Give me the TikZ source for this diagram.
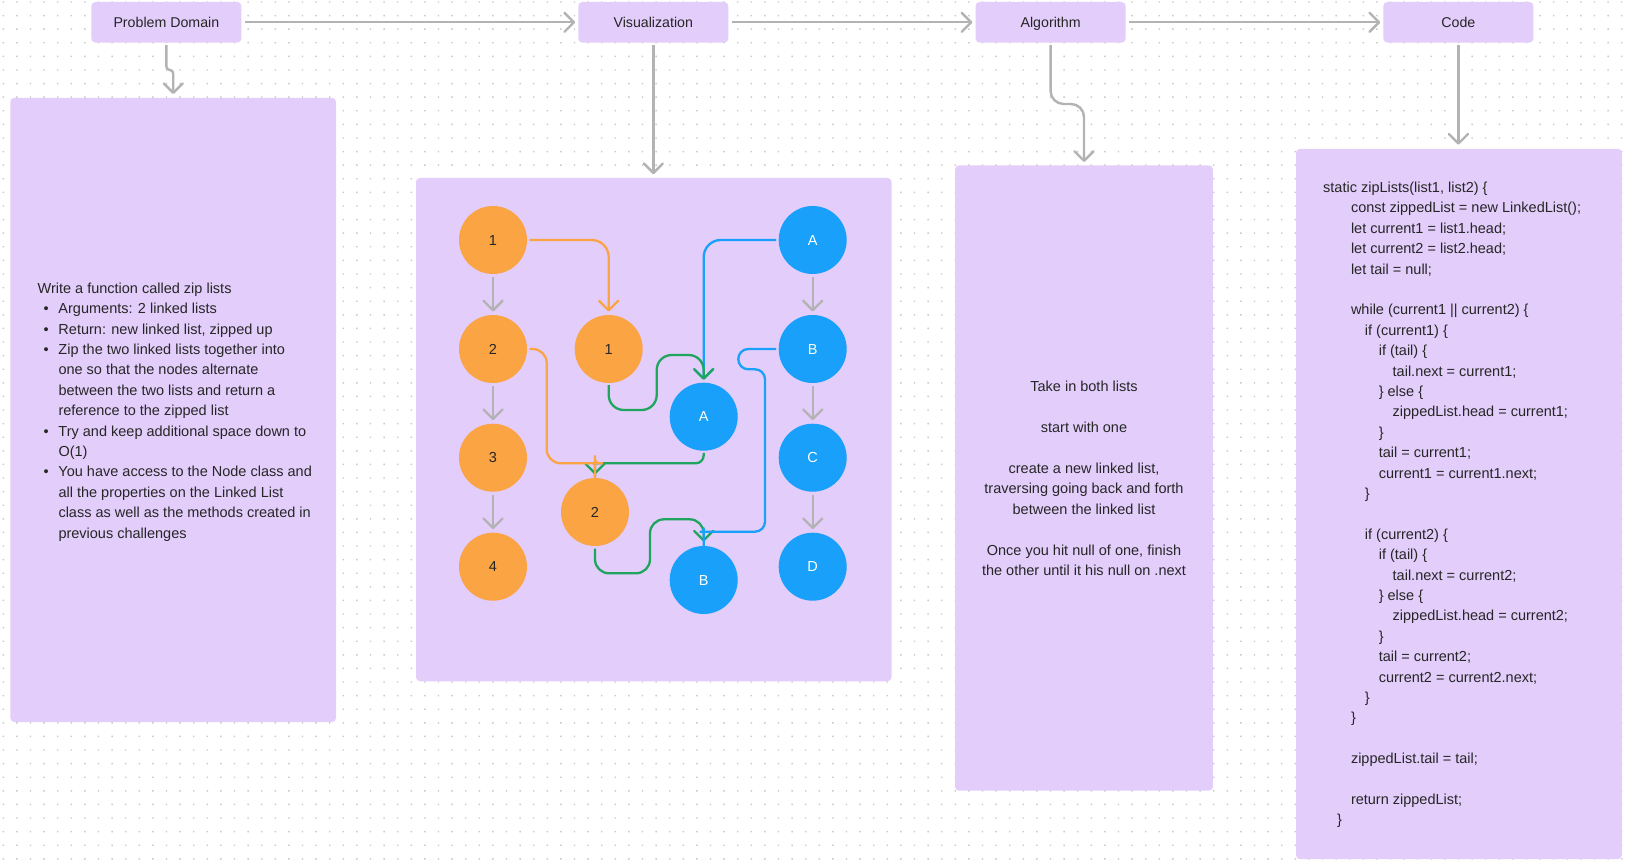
\documentclass[tikz,border=0pt]{standalone}
\usepackage{fontspec}
\setmainfont{Liberation Sans}
\usetikzlibrary{arrows.meta}
\definecolor{lav}{HTML}{E3CDFB}
\definecolor{org}{HTML}{FBA443}
\definecolor{blu}{HTML}{18A0FB}
\definecolor{grn}{HTML}{1FA55E}
\definecolor{gry}{HTML}{B3B3B3}
\definecolor{txt}{HTML}{262626}
\definecolor{dotc}{HTML}{C8C8C8}
\newlength\indstep
\setlength{\indstep}{13.9pt}
\newcommand\IN[1]{\hspace*{#1\indstep}}
\newcommand\pbul{\hspace*{6pt}\makebox[14.9pt][l]{•}}
\newcommand\pcont{\hspace*{20.9pt}}
\begin{document}
\begin{tikzpicture}[x=1pt,y=-1pt,
  every node/.style={font=\fontsize{14.5}{20.4}\selectfont, text=txt},
  box/.style={fill=lav, rounded corners=4pt, inner sep=0pt},
  hdr/.style={box, minimum width=150pt, minimum height=40.6pt, text height=10.2pt, text depth=0pt, font=\fontsize{14.2}{17}\selectfont},
  tipa/.style={-{Straight Barb[length=9.5pt,width=19pt,round]}},
  garrow/.style={tipa, draw=gry, line width=2.4pt},
  carrow/.style={tipa, line width=2.3pt},
  cnode/.style={circle, minimum size=68pt, inner sep=0pt, text height=10.4pt, text depth=0pt},
  onode/.style={cnode, fill=org, text=txt},
  bnode/.style={cnode, fill=blu, text=white},
  txtnode/.style={inner sep=0pt}
]
\useasboundingbox (0,0) rectangle (1631,861);
\fill[white] (0,0) rectangle (1631,861);
% dot grid
\foreach \j in {0,...,63} {
  \fill[dotc] \foreach \i in {0,...,119} { (2.6+13.6*\i, 1.3+13.6*\j) rectangle ++(1.4,1.4) };
}

% header boxes
\node[hdr] (pd)   at (166.4,22.3) {Problem Domain};
\node[hdr] (vis)  at (653.3,22.3) {Visualization};
\node[hdr] (alg)  at (1050.6,22.3) {Algorithm};
\node[hdr] (code) at (1458.4,22.3) {Code};

% big boxes
\node[box, minimum width=325.6pt, minimum height=624.2pt] (prob)    at (173.2,409.9) {};
\node[box, minimum width=475.5pt, minimum height=503.4pt] (visbox)  at (653.75,429.6) {};
\node[box, minimum width=257.9pt, minimum height=625.2pt] (algbox)  at (1084,478) {};
\node[box, minimum width=325.7pt, minimum height=710.4pt] (codebox) at (1458.9,504) {};

% header arrows
\draw[garrow, shorten <=3.5pt, shorten >=3pt] (pd.east) -- (vis.west);
\draw[garrow, shorten <=3.5pt, shorten >=3pt] (vis.east) -- (alg.west);
\draw[garrow, shorten <=3.5pt, shorten >=3pt] (alg.east) -- (code.west);

% down arrows
\draw[garrow, rounded corners=3.4pt, shorten <=2.4pt, shorten >=3.5pt] (pd.south) -- (166.4,70) -- (173.2,70) -- (prob.north);
\draw[garrow, shorten <=2.4pt, shorten >=3.5pt] (vis.south) -- (vis.south |- visbox.north);
\draw[garrow, rounded corners=13pt, shorten <=2.4pt, shorten >=3.2pt] (alg.south) -- (1050.6,104) -- (1084,104) -- (algbox.north);
\draw[garrow, shorten <=2.4pt, shorten >=3.8pt] (code.south) -- (code.south |- codebox.north);

% problem text
\node[txtnode, anchor=west, align=left] (ptext) at (37.4,412) {Write a function called zip lists\\
\pbul Arguments: 2 linked lists\\
\pbul Return: new linked list, zipped up\\
\pbul Zip the two linked lists together into\\
\pcont one so that the nodes alternate\\
\pcont between the two lists and return a\\
\pcont reference to the zipped list\\
\pbul Try and keep additional space down to\\
\pcont O(1)\\
\pbul You have access to the Node class and\\
\pcont all the properties on the Linked List\\
\pcont class as well as the methods created in\\
\pcont previous challenges};

% algorithm text
\node[txtnode, align=center] (atext) at (1084,478.6) {Take in both lists\\[20.4pt]start with one\\[20.4pt]create a new linked list,\\traversing going back and forth\\between the linked list\\[20.4pt]Once you hit null of one, finish\\the other until it his null on .next};

% code text
\node[txtnode, anchor=west, align=left] (ctext) at (1323,505) {static zipLists(list1, list2) \{\\
\IN{2}const zippedList = new LinkedList();\\
\IN{2}let current1 = list1.head;\\
\IN{2}let current2 = list2.head;\\
\IN{2}let tail = null;\\[20.4pt]
\IN{2}while (current1 || current2) \{\\
\IN{3}if (current1) \{\\
\IN{4}if (tail) \{\\
\IN{5}tail.next = current1;\\
\IN{4}\} else \{\\
\IN{5}zippedList.head = current1;\\
\IN{4}\}\\
\IN{4}tail = current1;\\
\IN{4}current1 = current1.next;\\
\IN{3}\}\\[20.4pt]
\IN{3}if (current2) \{\\
\IN{4}if (tail) \{\\
\IN{5}tail.next = current2;\\
\IN{4}\} else \{\\
\IN{5}zippedList.head = current2;\\
\IN{4}\}\\
\IN{4}tail = current2;\\
\IN{4}current2 = current2.next;\\
\IN{3}\}\\
\IN{2}\}\\[20.4pt]
\IN{2}zippedList.tail = tail;\\[20.4pt]
\IN{2}return zippedList;\\
\IN{1}\}};

% visualization nodes
\node[onode] (a1) at (493,240) {1};
\node[onode] (a2) at (493,349) {2};
\node[onode] (a3) at (493,457.7) {3};
\node[onode] (a4) at (493,566.7) {4};
\node[bnode] (b1) at (812.7,240) {A};
\node[bnode] (b2) at (812.7,349) {B};
\node[bnode] (b3) at (812.7,457.7) {C};
\node[bnode] (b4) at (812.7,566.7) {D};
\node[onode] (m1) at (608.7,349) {1};
\node[bnode] (mA) at (703.7,416.7) {A};
\node[onode] (m2) at (595,512) {2};
\node[bnode] (mB) at (703.7,580) {B};

% list arrows
\foreach \u/\v in {a1/a2,a2/a3,a3/a4,b1/b2,b2/b3,b3/b4}
  \draw[garrow, shorten <=2.7pt, shorten >=3.3pt] (\u.south) -- (\v.north);

% zip connectors
\draw[carrow, draw=org, rounded corners=17pt, shorten <=2.3pt, shorten >=3.3pt] (a1.east) -- (m1 |- a1) -- (m1.north);
\draw[carrow, draw=blu, rounded corners=17pt, shorten <=2.3pt, shorten >=2.7pt] (b1.west) -- (mA |- b1) -- (mA.north);
\draw[carrow, draw=grn, rounded corners=15pt, shorten <=2pt, shorten >=2.7pt] (m1.south) -- (608.7,410) -- (656.7,410) -- (656.7,355) -- (703.7,355) -- (mA.north);
\draw[carrow, draw=grn, rounded corners=8pt, shorten <=2pt, shorten >=3.3pt] (mA.south) -- (703.7,463.3) -- (601,463.3) .. controls (595,463.3) .. (595,469.3) -- (m2.north);
\draw[carrow, draw=org, rounded corners=14pt, shorten <=2.5pt, shorten >=3.3pt] (a2.east) -- (546.7,349) -- (546.7,463.3) -- (589,463.3) .. controls (595,463.3) .. (595,469.3) -- (m2.north);
\draw[carrow, draw=grn, rounded corners=14pt, shorten <=2.3pt, shorten >=4.3pt] (m2.south) -- (595,573.3) -- (650,573.3) -- (650,519.3) -- (703.7,519.3) -- (mB.north);
\draw[carrow, draw=blu, rounded corners=10pt, shorten <=2.3pt, shorten >=4.3pt] (b2.west) -- (738.3,349) -- (738.3,369.3) -- (765,369.3) -- (765,531.7) -- (709.7,531.7) .. controls (703.7,531.7) .. (703.7,537.7) -- (mB.north);
\end{tikzpicture}
\end{document}
